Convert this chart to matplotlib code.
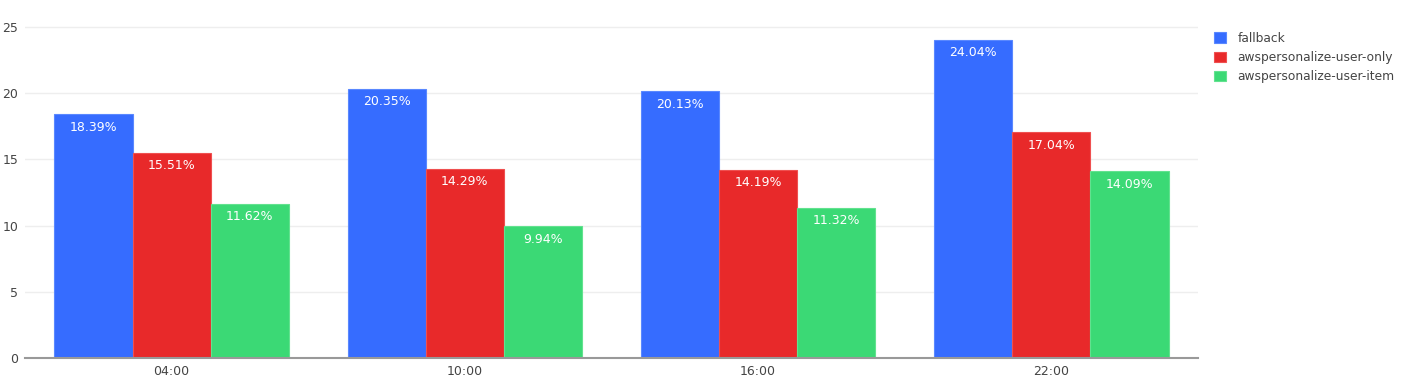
import matplotlib
matplotlib.use("Agg")
import matplotlib.pyplot as plt
import numpy as np

categories = ["04:00", "10:00", "16:00", "22:00"]
series_names = ["fallback", "awspersonalize-user-only", "awspersonalize-user-item"]
fallback = [18.39, 20.35, 20.13, 24.04]
user_only = [15.51, 14.29, 14.19, 17.04]
user_item = [11.62, 9.94, 11.32, 14.09]
colors = ["#366cff", "#e8292a", "#3bd975"]
edge_colors = ["#5a88ff", "#ef5050", "#62e28f"]

W, H = 1410, 380
fig = plt.figure(figsize=(W / 100, H / 100), dpi=100)
ax = fig.add_axes([25 / W, 22 / H, (1198 - 25) / W, (358 - 23) / H])

x = np.arange(len(categories))
bw = 0.8 / 3
handles = []
for i, (vals, name) in enumerate(zip([fallback, user_only, user_item], series_names)):
    pos = x + (i - 1) * bw
    bars = ax.bar(pos, vals, width=bw, color=colors[i], edgecolor=edge_colors[i],
                  linewidth=0.8, label=name, zorder=3)
    handles.append(bars)
    for p, v in zip(pos, vals):
        ax.annotate(f"{v:.2f}%", xy=(p, v), xytext=(0, -4.5), textcoords="offset points",
                    ha="center", va="top", color="white", fontsize=9, zorder=4)

ax.set_xlim(-0.5, len(categories) - 0.5)
ax.set_ylim(0, 25.3)
ax.set_yticks([0, 5, 10, 15, 20, 25])
ax.set_xticks(x)
ax.set_xticklabels(categories)
ax.grid(axis="y", color="#eeeeee", linewidth=1, zorder=0)
ax.set_axisbelow(True)
for s in ["top", "right", "left"]:
    ax.spines[s].set_visible(False)
ax.spines["bottom"].set_color("#999999")
ax.spines["bottom"].set_linewidth(1.5)
ax.spines["bottom"].set_zorder(5)
ax.tick_params(axis="both", length=0, colors="#444444", labelsize=9)
ax.tick_params(axis="x", pad=5)
ax.tick_params(axis="y", pad=5)

leg = fig.legend(handles=handles, labels=series_names, loc="upper left",
                 bbox_to_anchor=(1209 / W, 1 - 27 / H), frameon=False,
                 fontsize=8.8, handlelength=0.95, handleheight=0.95,
                 handletextpad=1.0, labelspacing=0.5, borderaxespad=0)
for t in leg.get_texts():
    t.set_color("#444444")

fig.savefig("out.png", dpi=100, facecolor="white")
